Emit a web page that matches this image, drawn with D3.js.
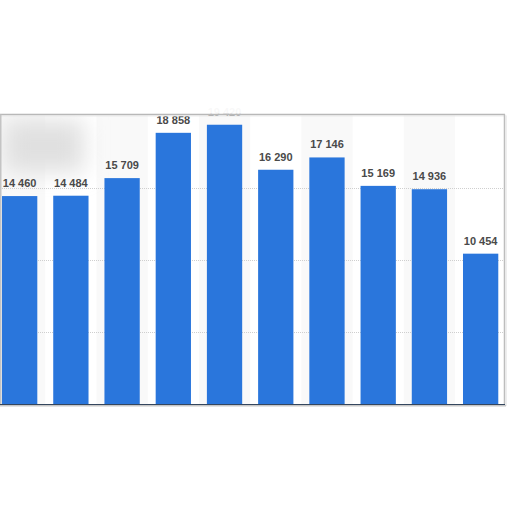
<!DOCTYPE html>
<html><head><meta charset="utf-8">
<script src="https://cdn.jsdelivr.net/npm/d3@7/dist/d3.min.js"></script>
<style>html,body{margin:0;padding:0;background:#fff;overflow:hidden}</style>
</head><body>
<svg id="c" width="512" height="512"></svg>
<script>
const categories = ["1","2","3","4","5","6","7","8","9","10"];
const values = [14460, 14484, 15709, 18858, 19420, 16290, 17146, 15169, 14936, 10454];
const labels = ["14 460","14 484","15 709","18 858","19 420","16 290","17 146","15 169","14 936","10 454"];
const gridTicks = [5000, 10000, 15000];

const svg = d3.select("#c");
const x = d3.scaleBand().domain(categories).range([-5.95, 506.25]).paddingInner(0.311).paddingOuter(0.1555);
const y = d3.scaleLinear().domain([0, 20000]).range([404, 116.4]);

const defs = svg.append("defs");
defs.append("filter").attr("id","blur").attr("x","-50%").attr("y","-50%").attr("width","200%").attr("height","200%")
  .append("feGaussianBlur").attr("stdDeviation", 11);

// column stripes
svg.selectAll("rect.stripe").data(categories.filter((d,i)=>i%2===0)).enter().append("rect")
  .attr("x", d => x(d) - x.step()*x.paddingInner()/2)
  .attr("width", x.step())
  .attr("y", y(20000)-2).attr("height", y(0) - y(20000) + 2)
  .attr("fill", "#f9f9f9");

// blurred patch top-left
svg.append("rect").attr("x", 4).attr("y", 120).attr("width", 80).attr("height", 52)
  .attr("fill", "#e0e0e0").attr("filter", "url(#blur)");

// gridlines
svg.selectAll("line.grid").data(gridTicks).enter().append("line")
  .attr("x1", 0).attr("x2", 505)
  .attr("y1", d => Math.round(y(d)) + 0.5).attr("y2", d => Math.round(y(d)) + 0.5)
  .attr("stroke", "#cfcfcf").attr("stroke-width", 1).attr("stroke-dasharray", "1,1");

// bars
svg.selectAll("rect.bar").data(values).enter().append("rect")
  .attr("x", (d,i) => x(categories[i]))
  .attr("width", x.bandwidth())
  .attr("y", d => y(d))
  .attr("height", d => y(0) - y(d))
  .attr("fill", "#2a76dc");

// value labels
svg.selectAll("text.lab").data(values).enter().append("text")
  .attr("x", (d,i) => x(categories[i]) + x.bandwidth()/2)
  .attr("y", d => y(d) - 9)
  .attr("text-anchor", "middle")
  .attr("font-family", "Liberation Sans, Arial, sans-serif")
  .attr("font-weight", "bold")
  .attr("font-size", 11)
  .attr("fill", "#4a4a4a")
  .text((d,i) => labels[i]);

// white wash above frame
svg.append("rect").attr("x", 0).attr("y", 0).attr("width", 512).attr("height", y(20000) - 2.5)
  .attr("fill", "#fff").attr("opacity", 0.96);

// frame
const frameTop = y(20000) - 2;
svg.append("line").attr("x1", 0).attr("x2", 505).attr("y1", frameTop).attr("y2", frameTop)
  .attr("stroke", "#b8b8b8").attr("stroke-width", 1.5);
svg.append("line").attr("x1", 0).attr("x2", 505).attr("y1", frameTop + 1.5).attr("y2", frameTop + 1.5)
  .attr("stroke", "#e6e6e6").attr("stroke-width", 1);
svg.append("line").attr("x1", 0.75).attr("x2", 0.75).attr("y1", frameTop).attr("y2", y(0))
  .attr("stroke", "#c4c4c4").attr("stroke-width", 1.5);
svg.append("line").attr("x1", 504.5).attr("x2", 504.5).attr("y1", frameTop).attr("y2", y(0) + 1)
  .attr("stroke", "#bdbdbd").attr("stroke-width", 1.5);
svg.append("line").attr("x1", 506).attr("x2", 506).attr("y1", frameTop + 1).attr("y2", y(0) + 2)
  .attr("stroke", "#e8e8e8").attr("stroke-width", 1.5);
// baseline
svg.append("line").attr("x1", 0).attr("x2", 505).attr("y1", y(0) + 0.5).attr("y2", y(0) + 0.5)
  .attr("stroke", "#34465e").attr("stroke-width", 1);
svg.append("line").attr("x1", 0).attr("x2", 506).attr("y1", y(0) + 1.75).attr("y2", y(0) + 1.75)
  .attr("stroke", "#c8c8c8").attr("stroke-width", 1.5);
</script>
</body></html>
